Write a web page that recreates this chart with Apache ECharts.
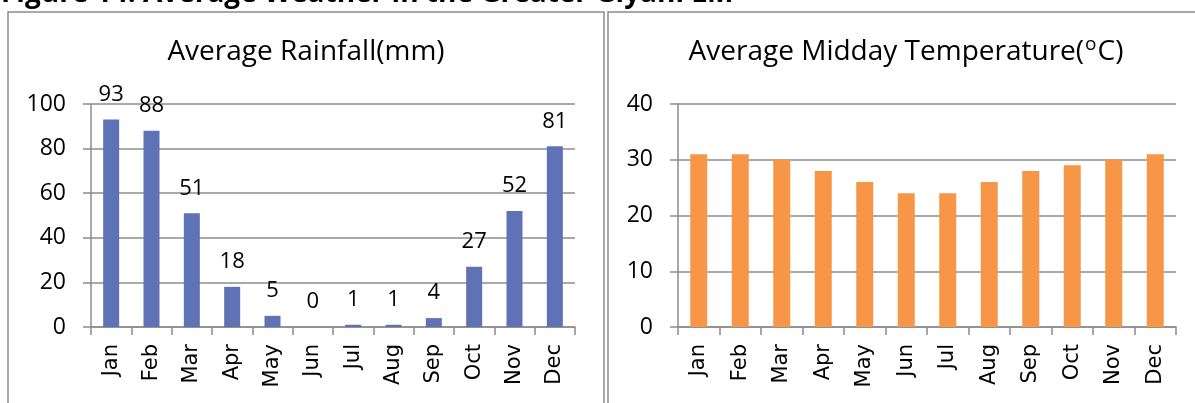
<!DOCTYPE html>
<html>
<head>
<meta charset="utf-8">
<script src="https://cdn.jsdelivr.net/npm/echarts@6/dist/echarts.min.js"></script>
<style>
  html, body { margin: 0; padding: 0; background: #fff; }
  #chart { width: 1195px; height: 403px; }
</style>
</head>
<body>
<div id="chart"></div>
<script>
// Monthly climate figures for the Greater Giyani LM
const months = ['Jan', 'Feb', 'Mar', 'Apr', 'May', 'Jun', 'Jul', 'Aug', 'Sep', 'Oct', 'Nov', 'Dec'];
const rainfall = [93, 88, 51, 18, 5, 0, 1, 1, 4, 27, 52, 81];
const temperature = [31, 31, 30, 28, 26, 24, 24, 26, 28, 29, 30, 31];
const rainTicks = { min: 0, max: 100, interval: 20 };
const tempTicks = { min: 0, max: 40, interval: 10 };

const figureTitle = 'Figure 14: Average Weather in the Greater Giyani LM';
const rainTitle = 'Average Rainfall(mm)';
// temperature heading with a raised "o" before the C
const tempTitle = '{t|Average Midday Temperature(}{s|o}{t|C)}';

const GRID_GREY = '#8c8c8c';
const BASE_FONT = '"Open Sans", "Noto Sans", sans-serif';

function valueAxis(gridIndex, ticks) {
  return {
    type: 'value', gridIndex,
    min: ticks.min, max: ticks.max, interval: ticks.interval,
    axisLine: { show: true, lineStyle: { color: GRID_GREY, width: 1.5 } },
    axisTick: { show: true, length: 8, lineStyle: { color: GRID_GREY, width: 1.5 } },
    splitLine: { show: true, lineStyle: { color: GRID_GREY, width: 1.5 } },
    axisLabel: { color: '#000', fontFamily: BASE_FONT, fontSize: 23, margin: 25 }
  };
}

function categoryAxis(gridIndex) {
  return {
    type: 'category', gridIndex, data: months,
    axisLine: { show: true, lineStyle: { color: GRID_GREY, width: 1.5 } },
    axisTick: { show: true, length: 8, alignWithLabel: false, lineStyle: { color: GRID_GREY, width: 1.5 } },
    axisLabel: { color: '#000', fontFamily: '"DejaVu Sans", sans-serif', fontSize: 21, rotate: 90, margin: 17, interval: 0 }
  };
}

const chart = echarts.init(document.getElementById('chart'), null, { renderer: 'canvas' });
chart.setOption({
  animation: false,
  backgroundColor: '#fff',
  grid: [
    { left: 91, top: 104, width: 484, height: 223 },
    { left: 678, top: 104, width: 498, height: 223 }
  ],
  xAxis: [categoryAxis(0), categoryAxis(1)],
  yAxis: [valueAxis(0, rainTicks), valueAxis(1, tempTicks)],
  series: [
    {
      type: 'bar', xAxisIndex: 0, yAxisIndex: 0, data: rainfall,
      barWidth: 16,
      itemStyle: { color: '#5f72b6' },
      label: {
        show: true, position: 'top', distance: 14,
        color: '#000', fontFamily: BASE_FONT, fontSize: 22, lineHeight: 22
      }
    },
    {
      type: 'bar', xAxisIndex: 1, yAxisIndex: 1, data: temperature,
      barWidth: 17,
      itemStyle: { color: '#f79646' }
    }
  ],
  graphic: [
    // panel frames
    { type: 'rect', shape: { x: 8, y: 12, width: 596, height: 420 },
      style: { fill: 'none', stroke: GRID_GREY, lineWidth: 1.5 }, silent: true },
    { type: 'rect', shape: { x: 608, y: 12, width: 620, height: 420 },
      style: { fill: 'none', stroke: GRID_GREY, lineWidth: 1.5 }, silent: true },
    // figure heading
    { type: 'text', left: 1, top: -20,
      style: { text: figureTitle, fill: '#000', font: 'bold 28px "Open Sans", sans-serif' } },
    // chart titles
    { type: 'text', x: 306, y: 52,
      style: { text: rainTitle, fill: '#000', font: '28px "Open Sans", sans-serif', textAlign: 'center', textVerticalAlign: 'middle' } },
    { type: 'text', x: 906, y: 52,
      style: {
        text: tempTitle, fill: '#000', align: 'center', verticalAlign: 'middle',
        rich: {
          t: { fontFamily: BASE_FONT, fontSize: 28, lineHeight: 34, fill: '#000' },
          s: { fontFamily: BASE_FONT, fontSize: 19, lineHeight: 19, verticalAlign: 'top', padding: [0, 1, 0, 1], fill: '#000' }
        }
      } }
  ]
});
</script>
</body>
</html>
